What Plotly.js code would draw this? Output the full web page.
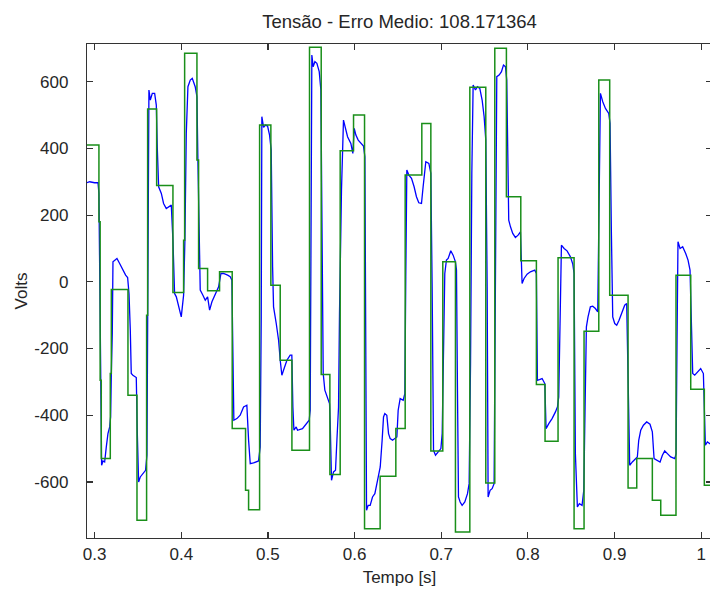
<!DOCTYPE html>
<html><head><meta charset="utf-8">
<script src="https://cdn.plot.ly/plotly-3.0.1.min.js"></script>
<style>html,body{margin:0;padding:0;overflow:hidden;background:#fff}#chart{width:720px;height:589px}</style>
</head><body><div id="chart"></div>
<script>
// Reference (green, step) signal
const greenTime = [0.2912,0.3050,0.3064,0.3077,0.3181,0.3193,0.3385,0.3489,0.3600,0.3612,0.3716,0.3904,0.4027,0.4039,0.4181,0.4200,0.4304,0.4442,0.4588,0.4742,0.4777,0.4904,0.5034,0.5142,0.5277,0.5480,0.5615,0.5715,0.5834,0.5988,0.6115,0.6295,0.6476,0.6584,0.6776,0.6880,0.7018,0.7164,0.7330,0.7514,0.7618,0.7752,0.7918,0.8098,0.8198,0.8348,0.8533,0.8648,0.8818,0.8944,0.9156,0.9256,0.9436,0.9533,0.9709,0.9879,1.0036,1.0125];
const greenVolts = [410,180,-295,-530,-275,-23,-340,-715,-100,518,289,-32,125,685,365,40,-27,30,-440,-625,-683,470,-10,-235,-505,703,-278,-578,393,500,-740,-583,-440,320,475,-507,60,-750,583,-603,700,255,63,-308,-478,72,-740,-148,605,-40,-618,-530,-655,-700,20,-322,-610,-610];

// Measured (blue) signal
const blueTime = [0.2912,0.2943,0.3000,0.3039,0.3050,0.3062,0.3081,0.3097,0.3116,0.3135,0.3154,0.3174,0.3185,0.3193,0.3204,0.3212,0.3231,0.3258,0.3289,0.3327,0.3358,0.3381,0.3397,0.3412,0.3423,0.3442,0.3481,0.3492,0.3508,0.3527,0.3558,0.3588,0.3604,0.3612,0.3627,0.3643,0.3666,0.3693,0.3712,0.3723,0.3739,0.3770,0.3796,0.3827,0.3885,0.3904,0.3923,0.3943,0.3981,0.4000,0.4027,0.4042,0.4058,0.4077,0.4104,0.4127,0.4161,0.4181,0.4192,0.4208,0.4219,0.4250,0.4277,0.4304,0.4327,0.4354,0.4392,0.4431,0.4458,0.4488,0.4535,0.4565,0.4584,0.4596,0.4607,0.4642,0.4680,0.4719,0.4757,0.4777,0.4796,0.4834,0.4892,0.4911,0.4923,0.4930,0.4950,0.4973,0.4996,0.5019,0.5038,0.5054,0.5065,0.5096,0.5123,0.5142,0.5161,0.5180,0.5219,0.5257,0.5276,0.5288,0.5300,0.5326,0.5342,0.5399,0.5457,0.5476,0.5488,0.5496,0.5507,0.5522,0.5542,0.5565,0.5592,0.5611,0.5622,0.5638,0.5657,0.5688,0.5711,0.5719,0.5734,0.5757,0.5780,0.5796,0.5815,0.5826,0.5849,0.5872,0.5888,0.5919,0.5957,0.5980,0.5996,0.6015,0.6042,0.6073,0.6103,0.6119,0.6126,0.6138,0.6157,0.6180,0.6207,0.6234,0.6265,0.6296,0.6318,0.6334,0.6349,0.6372,0.6392,0.6411,0.6438,0.6465,0.6488,0.6503,0.6526,0.6561,0.6580,0.6591,0.6603,0.6626,0.6657,0.6687,0.6714,0.6741,0.6772,0.6791,0.6803,0.6822,0.6857,0.6880,0.6895,0.6911,0.6934,0.6965,0.6996,0.7011,0.7026,0.7041,0.7060,0.7080,0.7110,0.7137,0.7164,0.7176,0.7187,0.7199,0.7218,0.7241,0.7272,0.7303,0.7322,0.7338,0.7353,0.7368,0.7395,0.7418,0.7445,0.7472,0.7495,0.7514,0.7530,0.7541,0.7564,0.7587,0.7610,0.7626,0.7641,0.7668,0.7695,0.7718,0.7741,0.7756,0.7768,0.7779,0.7799,0.7825,0.7856,0.7887,0.7914,0.7925,0.7933,0.7956,0.7991,0.8029,0.8079,0.8098,0.8110,0.8133,0.8164,0.8195,0.8210,0.8241,0.8279,0.8318,0.8341,0.8356,0.8371,0.8387,0.8418,0.8452,0.8491,0.8518,0.8533,0.8548,0.8571,0.8594,0.8625,0.8645,0.8660,0.8675,0.8694,0.8721,0.8748,0.8779,0.8806,0.8818,0.8837,0.8864,0.8895,0.8933,0.8948,0.8963,0.8979,0.9002,0.9025,0.9052,0.9090,0.9117,0.9140,0.9159,0.9175,0.9205,0.9244,0.9263,0.9279,0.9302,0.9333,0.9371,0.9409,0.9436,0.9456,0.9494,0.9525,0.9552,0.9579,0.9610,0.9648,0.9695,0.9710,0.9721,0.9732,0.9756,0.9786,0.9821,0.9848,0.9871,0.9886,0.9902,0.9925,0.9956,0.9994,1.0025,1.0036,1.0048,1.0071,1.0094,1.0125];
const blueVolts = [297,300,297,297,265,-155,-550,-537,-540,-495,-455,-435,-405,-275,-155,60,65,70,55,35,20,13,-35,-145,-275,-280,-287,-445,-600,-585,-575,-565,-520,-105,575,545,565,565,530,405,285,265,235,220,230,125,-35,-45,-90,-105,-40,125,445,585,605,610,585,555,365,45,-25,-40,-55,-45,-85,-60,-35,-15,25,25,20,15,5,-215,-415,-410,-400,-375,-370,-475,-545,-543,-537,-495,-105,495,463,470,467,440,395,45,-75,-125,-175,-235,-280,-265,-235,-220,-220,-375,-445,-435,-445,-440,-420,-415,-385,95,680,645,660,655,630,575,205,-275,-325,-350,-365,-425,-595,-570,-565,-475,-375,-95,275,485,465,435,415,385,460,440,425,415,407,375,-125,-685,-670,-670,-645,-635,-595,-555,-475,-405,-395,-400,-455,-470,-475,-470,-465,-385,-350,-355,-335,15,335,320,310,285,255,237,235,285,325,360,355,325,-15,-505,-520,-510,-500,-455,-225,25,65,70,93,80,60,35,-315,-645,-660,-670,-660,-635,-605,-245,325,590,575,585,580,545,495,425,-15,-645,-625,-620,-605,25,615,620,630,650,645,605,385,185,165,145,133,140,150,65,-5,10,23,30,35,25,-295,-293,-290,-305,-440,-425,-410,-390,-375,-345,-45,110,100,93,75,53,25,-515,-675,-665,-670,-625,-375,-135,-105,-75,-73,-80,-90,235,565,540,520,505,475,155,-105,-125,-130,-115,-90,-70,-65,-315,-550,-540,-530,-525,-475,-445,-430,-420,-427,-450,-530,-537,-540,-520,-507,-515,-525,-530,-515,-175,120,100,105,85,65,35,-95,-275,-280,-270,-260,-275,-375,-490,-480,-485,-490];

const xTickVals = [0.3,0.4,0.5,0.6,0.7,0.8,0.9,1.0];
const xTickText = ['0.3','0.4','0.5','0.6','0.7','0.8','0.9','1'];
const yTickVals = [-600,-400,-200,0,200,400,600];
const yTickText = ['-600','-400','-200','0','200','400','600'];

const txt = '#262626';
const fnt = {family:'"Liberation Sans", Arial, sans-serif', size:17, color:txt};
const titleFnt = {family:'"Liberation Sans", Arial, sans-serif', size:18.5, color:txt};

const traces = [
  {x: blueTime, y: blueVolts, type:'scatter', mode:'lines', line:{color:'#0000ff', width:1.3}, hoverinfo:'skip'},
  {x: greenTime, y: greenVolts, type:'scatter', mode:'lines', line:{color:'#1a8f1a', width:1.5, shape:'hv'}, hoverinfo:'skip'}
];

const axisCommon = {showline:true, mirror:'ticks', linecolor:'#333', linewidth:1.2, ticks:'inside', ticklen:6, tickcolor:'#333', tickwidth:1.2, showgrid:false, zeroline:false, tickfont:fnt};

const layout = {
  width:720, height:589,
  margin:{l:87, r:8, t:44, b:51},
  paper_bgcolor:'#fff', plot_bgcolor:'#fff',
  showlegend:false,
  title:{text:'Tensão - Erro Medio: 108.171364', font:titleFnt, x:0.5, xref:'paper', y:1-22/589, yref:'container', yanchor:'middle'},
  xaxis:Object.assign({}, axisCommon, {range:[0.29123,1.01245], tickmode:'array', tickvals:xTickVals, ticktext:xTickText, ticklabelstandoff:0, title:{text:'Tempo [s]', font:fnt, standoff:8}}),
  yaxis:Object.assign({}, axisCommon, {range:[-768,713], tickmode:'array', tickvals:yTickVals, ticktext:yTickText, ticklabelstandoff:14, title:{text:'Volts', font:fnt, standoff:2}})
};

Plotly.newPlot('chart', traces, layout, {displayModeBar:false, staticPlot:true});
</script>
</body></html>
